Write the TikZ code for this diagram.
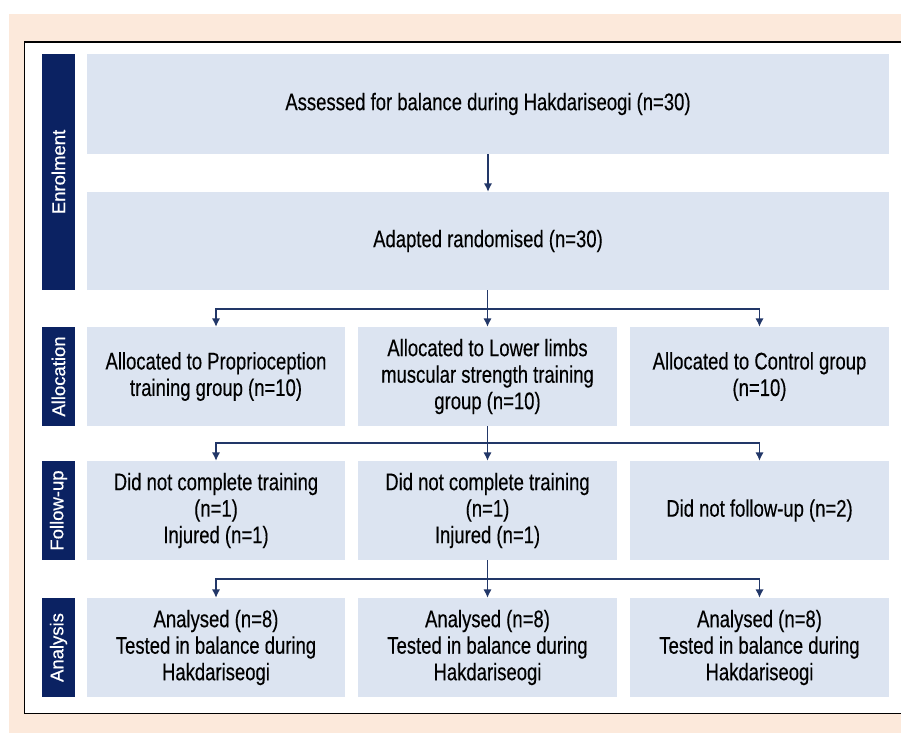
\documentclass[tikz,border=0pt]{standalone}
\usepackage{fontspec}
\setmainfont{Liberation Sans}[FakeStretch=0.77, FakeBold=0.3]
\newfontfamily\barfont{Liberation Sans}[FakeBold=0.5]
\usetikzlibrary{arrows.meta,positioning}

\definecolor{peach}{RGB}{252,233,219}
\definecolor{boxblue}{RGB}{220,228,241}
\definecolor{barblue}{RGB}{11,34,98}
\definecolor{linkblue}{RGB}{34,55,104}

\tikzset{
  stagebox/.style={fill=boxblue, align=center, inner sep=0pt,
                   font=\fontsize{24}{26.5}\selectfont},
  phasebar/.style={fill=barblue, text=white, rotate=90, inner sep=0pt,
                   minimum height=33pt, font=\barfont\fontsize{18.5}{20}\selectfont},
  link/.style={draw=linkblue, line width=1.6pt},
  flow/.style={link, -{Latex[length=8.5pt,width=8.5pt]}}
}

\begin{document}
\begin{tikzpicture}[x=1pt, y=-1pt]
  \useasboundingbox (0,0) rectangle (901,733);
  % frame
  \fill[peach] (9,14) rectangle (901,733);
  \fill[white] (24.5,42) rectangle (901,713.5);
  \draw[line width=1.6pt] (901,42) -- (24.5,42) -- (24.5,713.5);
  \draw[line width=1pt] (24.5,713.5) -- (901,713.5);

  % side bars
  \node[phasebar, minimum width=236pt] (enrol) at (58.5,172) {Enrolment};
  \node[phasebar, minimum width=99pt] (alloc) at (58.5,376.5) {Allocation};
  \node[phasebar, minimum width=99pt] (follow) at (58.5,510.5) {Follow-up};
  \node[phasebar, minimum width=99pt] (anal) at (58.5,647.5) {Analysis};

  % enrolment
  \node[stagebox, minimum width=802pt, minimum height=100pt] (assess) at (488,104)
    {Assessed for balance during Hakdariseogi (n=30)};
  \node[stagebox, minimum width=802pt, minimum height=98pt] (rand) at (488,241)
    {Adapted randomised (n=30)};

  % allocation
  \node[stagebox, minimum width=258pt, minimum height=99pt] (alloc1) at (216,376.5)
    {Allocated to Proprioception\\training group (n=10)};
  \node[stagebox, minimum width=259pt, minimum height=99pt] (alloc2) at (487.5,376.5)
    {Allocated to Lower limbs\\muscular strength training\\group (n=10)};
  \node[stagebox, minimum width=259pt, minimum height=99pt] (alloc3) at (759.5,376.5)
    {Allocated to Control group\\(n=10)};

  % follow-up
  \node[stagebox, minimum width=258pt, minimum height=99pt] (fol1) at (216,510.5)
    {Did not complete training\\(n=1)\\Injured (n=1)};
  \node[stagebox, minimum width=259pt, minimum height=99pt] (fol2) at (487.5,510.5)
    {Did not complete training\\(n=1)\\Injured (n=1)};
  \node[stagebox, minimum width=259pt, minimum height=99pt] (fol3) at (759.5,510.5)
    {Did not follow-up (n=2)};

  % analysis
  \node[stagebox, minimum width=258pt, minimum height=99pt] (ana1) at (216,647.5)
    {Analysed (n=8)\\Tested in balance during\\Hakdariseogi};
  \node[stagebox, minimum width=259pt, minimum height=99pt] (ana2) at (487.5,647.5)
    {Analysed (n=8)\\Tested in balance during\\Hakdariseogi};
  \node[stagebox, minimum width=259pt, minimum height=99pt] (ana3) at (759.5,647.5)
    {Analysed (n=8)\\Tested in balance during\\Hakdariseogi};

  % connectors
  \draw[flow] (assess.south -| rand.north) -- (rand.north);
  \coordinate (split1) at (487.5,309);
  \coordinate (split2) at (487.5,443);
  \coordinate (split3) at (487.5,579);
  \draw[link] (rand.south -| split1) -- (split1);
  \draw[link] (alloc2.south) -- (split2);
  \draw[link] (fol2.south) -- (split3);
  \foreach \s/\a/\b/\c in {split1/alloc1/alloc2/alloc3,
                           split2/fol1/fol2/fol3,
                           split3/ana1/ana2/ana3}{
    \draw[flow] (\s) -| (\a.north);
    \draw[flow] (\s) -- (\b.north);
    \draw[flow] (\s) -| (\c.north);
  }
\end{tikzpicture}
\end{document}
